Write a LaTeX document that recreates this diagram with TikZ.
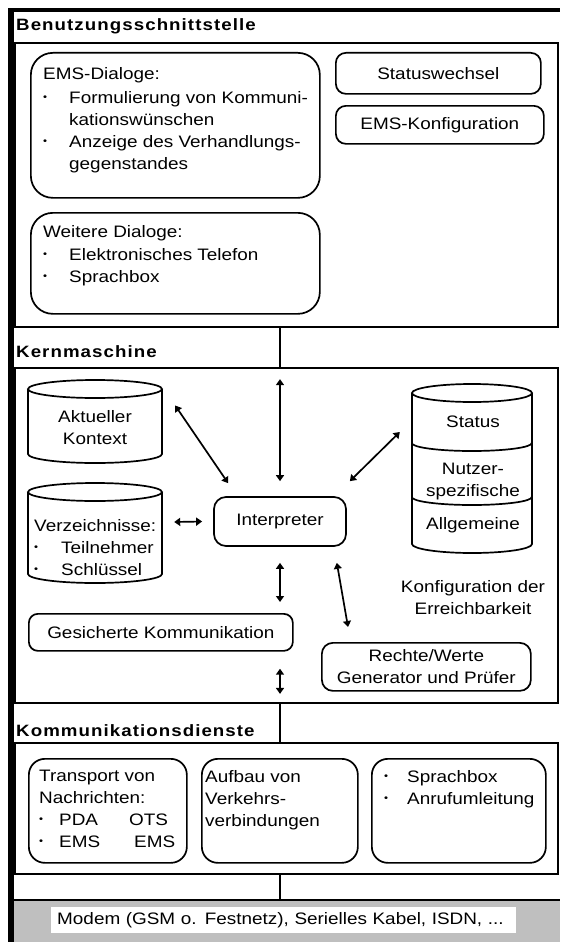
\documentclass[tikz,border=0pt]{standalone}
\usepackage{fontspec}
\setmainfont{Liberation Sans}[FakeStretch=1.14]
\newfontfamily\headfont{Liberation Sans}[FakeStretch=1.14, LetterSpace=6.5]
\usetikzlibrary{arrows.meta, calc}

% bullet with a fixed indent
\newcommand{\bul}[1][26pt]{\makebox[#1][l]{\fontsize{10}{10}\selectfont\raisebox{3pt}{\textbullet}}}
% database drum: centre x, top, bottom, x radius
\newcommand{\drum}[4]{%
  \draw[line width=1.7pt] (#1,#2+9) ellipse [x radius=#4pt, y radius=9pt];
  \draw[line width=1.7pt] (#1-#4,#2+9) -- (#1-#4,#3-9)
    arc[start angle=180, end angle=360, x radius=#4pt, y radius=9pt] -- (#1+#4,#2+9);}

\begin{document}
\begin{tikzpicture}[
      x=1pt, y=-1pt, % pixel-like units, y pointing down
      font=\fontsize{16.6}{22}\selectfont,
      section/.style={draw, rectangle, line width=1.9pt, anchor=north west, inner sep=0pt},
      section title/.style={anchor=base west, inner sep=0pt, font=\headfont\bfseries\fontsize{16.4}{20}\selectfont},
      rbox/.style={draw, rounded corners=#1, line width=1.7pt, anchor=north west, inner sep=0pt},
      rbox/.default=10pt,
      txt/.style={anchor=north west, inner sep=0pt, align=left},
      db/.style={rectangle, inner sep=0pt},
      dbl/.style={{Triangle[length=6pt,width=8pt]}-{Triangle[length=6pt,width=8pt]}, line width=1.7pt},
      link/.style={line width=1.9pt}
    ]

    \useasboundingbox (0,0) rectangle (560,942);

    % The three layers
    \node[section, minimum width=543pt, minimum height=284pt] (ui) at (14,42) {};
    \node[section, minimum width=543pt, minimum height=335pt] (core) at (14,367) {};
    \node[section, minimum width=543pt, minimum height=131pt] (comm) at (14,742) {};
    \node[section title] (ui title) at (16,31) {Benutzungsschnittstelle};
    \node[section title] (core title) at (16,357) {Kernmaschine};
    \node[section title] (comm title) at (16,736) {Kommunikationsdienste};

    % Network band at the bottom
    \node[fill=black!25, anchor=north west, minimum width=546pt, minimum height=42pt, inner sep=0pt] (net) at (14,900) {};
    \draw[link] (net.north west) -- (net.north east);
    \node[fill=white, anchor=north west, minimum height=26pt, text width=453pt, inner xsep=6pt, inner ysep=0pt, align=left] (modem) at (51,907)
      {Modem (GSM o. Festnetz), Serielles Kabel, ISDN, ...};

    % Benutzungsschnittstelle
    \node[rbox=22pt, minimum width=289pt, minimum height=145pt] (ems) at (30,52) {};
    \node[txt] (ems text) at (43,67.3) {EMS-Dialoge:\\[1.5pt]
      \bul Formulierung von Kommuni-\\ \hspace*{26pt}kationswünschen\\
      \bul Anzeige des Verhandlungs-\\ \hspace*{26pt}gegenstandes};
    \node[rbox=22pt, minimum width=289pt, minimum height=101pt] (dialog) at (30,212) {};
    \node[txt] (dialog text) at (43,225) {Weitere Dialoge:\\[1.5pt]
      \bul Elektronisches Telefon\\ \bul Sprachbox};
    \node[rbox, minimum width=205pt, minimum height=41pt] (status change) at (335,52) {Statuswechsel};
    \node[rbox, minimum width=208pt, minimum height=38pt] (ems config) at (335,105) {EMS-Konfiguration};

    % Kernmaschine: the three stores
    \node[db, minimum width=134pt, minimum height=83pt] (context) at (95,421.5) {};
    \drum{95}{380}{463}{67}
    \node[align=center, inner sep=0pt] (context text) at (95,428) {Aktueller\\Kontext};
    \node[db, minimum width=134pt, minimum height=100pt] (dirs) at (95,533) {};
    \drum{95}{483}{583}{67}
    \node[txt] (dirs text) at (34,519) {Verzeichnisse:\\ \bul[27pt]Teilnehmer\\ \bul[27pt]Schlüssel};
    \node[db, minimum width=120pt, minimum height=169pt] (store) at (472,468.5) {};
    \drum{472}{384}{553}{60}
    \draw[line width=1.7pt] ([shift={(0,-25.5)}]store.west) arc[start angle=180, end angle=360, x radius=60pt, y radius=8pt];
    \draw[line width=1.7pt] ([shift={(0,28.5)}]store.west) arc[start angle=180, end angle=360, x radius=60pt, y radius=8pt];
    \node (store status) at (473,421.7) {Status};
    \node[align=center, inner sep=0pt] (store user) at (473,481.5) {Nutzer-\\spezifische};
    \node (store general) at (473,525) {Allgemeine};
    \node[align=center, inner sep=0pt] (reach) at (473,598) {Konfiguration der\\Erreichbarkeit};

    \node[rbox=12pt, minimum width=132pt, minimum height=49pt, anchor=center] (interp) at (280,521.5) {Interpreter};
    \node[rbox=9pt, minimum width=264pt, minimum height=37pt] (secure) at (28,613) {Gesicherte Kommunikation};
    \node[rbox=11pt, minimum width=209pt, minimum height=48pt, align=center] (rights) at (321,642) {Rechte/Werte\\Generator und Prüfer};

    % Arrows around the interpreter
    \draw[dbl] ([shift={(13,-16)}]context.east) -- ([shift={(15,-13)}]interp.north west);
    \draw[dbl] ([shift={(0,-117)}]interp.north) -- ([shift={(0,-15)}]interp.north);
    \draw[dbl] ([shift={(-12,-36.5)}]store.west) -- ([shift={(3,-15)}]interp.north east);
    \draw[dbl] ([shift={(12,-11)}]dirs.east) -- ([shift={(-11,0)}]interp.west);
    \draw[dbl] ([shift={(0,16)}]interp.south) -- ($(secure.north -| interp.south)+(0,-11)$);
    \draw[dbl] ([shift={(-10,16)}]interp.south east) -- ([shift={(27,-15)}]rights.north west);
    \draw[dbl] ($(secure.south -| interp.south)+(0,17)$) -- ($(core.south -| interp.south)+(0,-10)$);

    % Kommunikationsdienste
    \node[rbox=16pt, minimum width=158pt, minimum height=104pt] (transport) at (28,758) {};
    \node[txt] (transport text) at (39,770) {Transport von\\Nachrichten:\\
      \bul[20pt]\makebox[70pt][l]{PDA}OTS\\ \bul[20pt]\makebox[75pt][l]{EMS}EMS};
    \node[rbox=16pt, minimum width=156pt, minimum height=104pt] (setup) at (201,758) {};
    \node[txt] (setup text) at (205,770) {Aufbau von\\Verkehrs-\\verbindungen};
    \node[rbox=16pt, minimum width=174pt, minimum height=104pt] (voice) at (371,758) {};
    \node[txt] (voice text) at (384,770) {\bul[23pt]Sprachbox\\ \bul[23pt]Anrufumleitung};

    % Links between the layers
    \foreach \a/\b in {ui/core, core/comm, comm/net}
      \draw[link] (\a.south -| interp.south) -- (\b.north -| interp.south);

    % Frame bars
    \fill (7.5,8) rectangle (14,942);
    \fill (7.5,8) rectangle (560,12.5);

  \end{tikzpicture}
\end{document}
